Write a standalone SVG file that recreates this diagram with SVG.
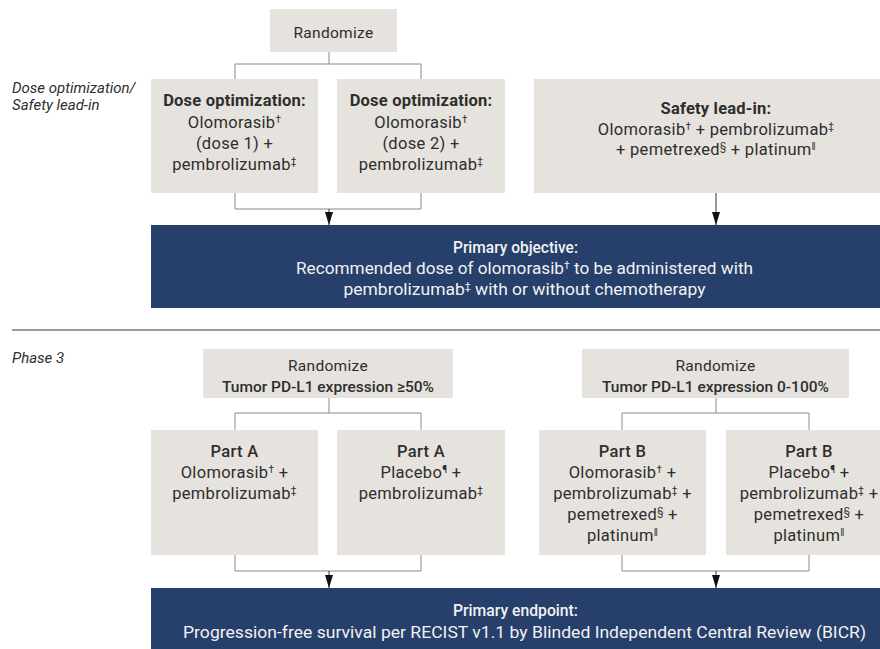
<svg xmlns="http://www.w3.org/2000/svg" width="880" height="649" viewBox="0 0 880 649">
<defs>
<marker id="arr" viewBox="0 0 13 8" refX="13" refY="4" markerWidth="13" markerHeight="8" markerUnits="userSpaceOnUse" orient="auto">
<path d="M0,0 L13,4 L0,8 z" fill="#111"/>
</marker>
<style>
.box{fill:#e6e2dd}
.blue{fill:#263f6b}
.t{font-family:Roboto,"Liberation Sans",sans-serif;font-size:16.5px;letter-spacing:0.3px;fill:#2e2e2e;text-anchor:middle}
.b{font-weight:bold;letter-spacing:0.2px}
.m{font-weight:500}
.w{font-family:Roboto,"Liberation Sans",sans-serif;font-size:16.5px;fill:#f2f2f2;text-anchor:middle}
.lab{font-family:Roboto,"Liberation Sans",sans-serif;font-size:15px;font-style:italic;fill:#2e2e2e}
.s{font-size:10px}
.c{fill:none;stroke:#8a8a8a;stroke-width:1}
.a{fill:none;stroke:#333;stroke-width:1;marker-end:url(#arr)}
</style>
</defs>
<rect width="880" height="649" fill="#ffffff"/>

<text class="lab" x="12" y="93">Dose optimization/</text>
<text class="lab" x="12" y="110">Safety lead-in</text>
<text class="lab" x="12" y="363">Phase 3</text>
<line x1="12" y1="330" x2="880" y2="330" stroke="#7a7a7a" stroke-width="1.5"/>

<g id="connectors">
<path class="c" d="M329,52 V64 M235,79 V64 H421 V79"/>
<path class="c" d="M235,193 V209 H421 V193"/>
<path class="a" d="M329,209 V225"/>
<path class="a" d="M716,193 V225"/>
<path class="c" d="M329,398 V413 M235,430 V413 H421 V430"/>
<path class="c" d="M235,555 V571 H421 V555"/>
<path class="a" d="M329,571 V588"/>
<path class="c" d="M716,398 V413 M622,430 V413 H809 V430"/>
<path class="c" d="M622,555 V571 H809 V555"/>
<path class="a" d="M716,571 V588"/>
</g>

<g id="randomize1">
<rect class="box" x="270" y="9" width="127" height="43"/>
<text class="t" x="333.5" y="38" style="font-size:15.5px">Randomize</text>
</g>

<g id="dose1">
<rect class="box" x="151" y="79" width="167" height="114"/>
<text class="t b" x="234.5" y="106">Dose optimization:</text>
<text class="t" x="234.5" y="128">Olomorasib<tspan class="s" baseline-shift="5">†</tspan></text>
<text class="t" x="234.5" y="149">(dose 1) +</text>
<text class="t" x="234.5" y="170">pembrolizumab<tspan class="s" baseline-shift="5">‡</tspan></text>
</g>

<g id="dose2">
<rect class="box" x="337" y="79" width="168" height="114"/>
<text class="t b" x="421" y="106">Dose optimization:</text>
<text class="t" x="421" y="128">Olomorasib<tspan class="s" baseline-shift="5">†</tspan></text>
<text class="t" x="421" y="149">(dose 2) +</text>
<text class="t" x="421" y="170">pembrolizumab<tspan class="s" baseline-shift="5">‡</tspan></text>
</g>

<g id="safety">
<rect class="box" x="534" y="79" width="364" height="114"/>
<text class="t b" x="716" y="114">Safety lead-in:</text>
<text class="t" x="716" y="135">Olomorasib<tspan class="s" baseline-shift="5">†</tspan> + pembrolizumab<tspan class="s" baseline-shift="5">‡</tspan></text>
<text class="t" x="716" y="155">+ pemetrexed<tspan class="s" baseline-shift="5">§</tspan> + platinum<tspan class="s" baseline-shift="5">‖</tspan></text>
</g>

<g id="objective">
<rect class="blue" x="151" y="225" width="747" height="83"/>
<text class="w m" x="515.5" y="253" textLength="125" lengthAdjust="spacingAndGlyphs">Primary objective:</text>
<text class="w" x="524.5" y="274" textLength="457" lengthAdjust="spacingAndGlyphs">Recommended dose of olomorasib<tspan class="s" baseline-shift="5">†</tspan> to be administered with</text>
<text class="w" x="524.5" y="295" textLength="362" lengthAdjust="spacingAndGlyphs">pembrolizumab<tspan class="s" baseline-shift="5">‡</tspan> with or without chemotherapy</text>
</g>

<g id="randomizeA">
<rect class="box" x="203" y="349" width="250" height="49"/>
<text class="t" x="328" y="371" style="font-size:15.5px">Randomize</text>
<text class="t m" x="328" y="392" style="font-size:15.5px;letter-spacing:0">Tumor PD-L1 expression ≥50%</text>
</g>

<g id="randomizeB">
<rect class="box" x="582" y="349" width="267" height="49"/>
<text class="t" x="715.5" y="371" style="font-size:15.5px">Randomize</text>
<text class="t m" x="715.5" y="392" style="font-size:15.5px;letter-spacing:0">Tumor PD-L1 expression 0-100%</text>
</g>

<g id="partA1">
<rect class="box" x="151" y="430" width="167" height="125"/>
<text class="t m" x="234.5" y="457">Part A</text>
<text class="t" x="234.5" y="478">Olomorasib<tspan class="s" baseline-shift="5">†</tspan> +</text>
<text class="t" x="234.5" y="499">pembrolizumab<tspan class="s" baseline-shift="5">‡</tspan></text>
</g>

<g id="partA2">
<rect class="box" x="337" y="430" width="168" height="125"/>
<text class="t m" x="421" y="457">Part A</text>
<text class="t" x="421" y="478">Placebo<tspan class="s" baseline-shift="5">¶</tspan> +</text>
<text class="t" x="421" y="499">pembrolizumab<tspan class="s" baseline-shift="5">‡</tspan></text>
</g>

<g id="partB1">
<rect class="box" x="539" y="430" width="167" height="125"/>
<text class="t m" x="622.5" y="457">Part B</text>
<text class="t" x="622.5" y="478">Olomorasib<tspan class="s" baseline-shift="5">†</tspan> +</text>
<text class="t" x="622.5" y="499">pembrolizumab<tspan class="s" baseline-shift="5">‡</tspan> +</text>
<text class="t" x="622.5" y="520">pemetrexed<tspan class="s" baseline-shift="5">§</tspan> +</text>
<text class="t" x="622.5" y="541">platinum<tspan class="s" baseline-shift="5">‖</tspan></text>
</g>

<g id="partB2">
<rect class="box" x="726" y="430" width="166" height="125"/>
<text class="t m" x="809" y="457">Part B</text>
<text class="t" x="809" y="478">Placebo<tspan class="s" baseline-shift="5">¶</tspan> +</text>
<text class="t" x="809" y="499">pembrolizumab<tspan class="s" baseline-shift="5">‡</tspan> +</text>
<text class="t" x="809" y="520">pemetrexed<tspan class="s" baseline-shift="5">§</tspan> +</text>
<text class="t" x="809" y="541">platinum<tspan class="s" baseline-shift="5">‖</tspan></text>
</g>

<g id="endpoint">
<rect class="blue" x="151" y="588" width="747" height="70"/>
<text class="w m" x="515.5" y="616" textLength="125" lengthAdjust="spacingAndGlyphs">Primary endpoint:</text>
<text class="w" x="524.5" y="638" textLength="683" lengthAdjust="spacingAndGlyphs">Progression-free survival per RECIST v1.1 by Blinded Independent Central Review (BICR)</text>
</g>
</svg>
